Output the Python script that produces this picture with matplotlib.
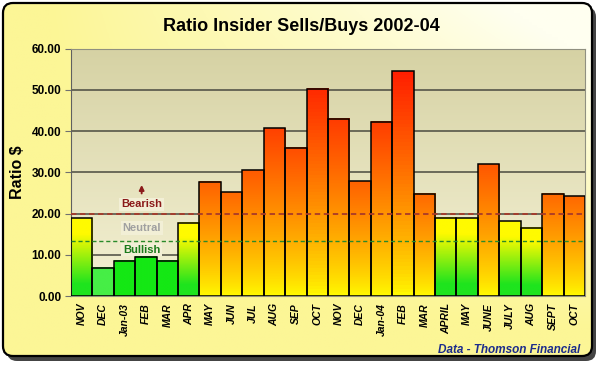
import numpy as np
import matplotlib
matplotlib.use("Agg")
import matplotlib.pyplot as plt
from matplotlib.patches import FancyBboxPatch

# data
months = ["NOV", "DEC", "Jan-03", "FEB", "MAR", "APR", "MAY", "JUN", "JUL", "AUG",
          "SEP", "OCT", "NOV", "DEC", "Jan-04", "FEB", "MAR", "APRIL", "MAY", "JUNE",
          "JULY", "AUG", "SEPT", "OCT"]
ratios = [18.8, 6.9, 8.5, 9.5, 8.5, 17.8, 27.7, 25.2, 30.5, 40.7,
          35.9, 50.3, 43.0, 27.8, 42.3, 54.5, 24.8, 19.0, 18.8, 32.0,
          18.1, 16.6, 24.8, 24.2]
bearish_level = 20.0
bullish_level = 13.3
yticks = [0, 10, 20, 30, 40, 50, 60]

plt.rcParams['font.family'] = ['Liberation Sans', 'DejaVu Sans']

fig = plt.figure(figsize=(6, 3.65), dpi=100)
fig.patch.set_facecolor("white")

# background panel with rounded border and shadow
bg = fig.add_axes([0, 0, 1, 1], zorder=-2)
bg.set_xlim(0, 600)
bg.set_ylim(365, 0)
bg.axis("off")
shadow = FancyBboxPatch((7, 7), 589, 354, boxstyle="round,pad=0,rounding_size=10",
                        facecolor="#444444", edgecolor="none")
bg.add_patch(shadow)
panel = FancyBboxPatch((3, 3), 589, 353, boxstyle="round,pad=0,rounding_size=10",
                       facecolor="none", edgecolor="black", linewidth=1.6, zorder=3)
bg.add_patch(panel)
gx, gy = np.meshgrid(np.linspace(0, 1, 200), np.linspace(0, 1, 120))
t = np.clip(gx * (1 - gy) * 1.3 - 0.1, 0, 1)
yel = np.array([252, 246, 150]) / 255
wht = np.array([255, 255, 240]) / 255
img = yel[None, None, :] * (1 - t[..., None]) + wht[None, None, :] * t[..., None]
im = bg.imshow(img, extent=(3, 592, 356, 3), aspect="auto", zorder=1)
im.set_clip_path(panel)

ax = fig.add_axes([0.1183, 0.189, 0.8567, 0.678])
ax.set_xlim(-0.5, len(months) - 0.5)
ax.set_ylim(0, 60)
ax.patch.set_alpha(0)

# plot area gradient
top_c = np.array([214, 210, 164]) / 255
bot_c = np.array([244, 241, 212]) / 255
s = np.linspace(0, 1, 100)[:, None]
pa = top_c * (1 - s) + bot_c * s
ax.imshow(pa[:, None, :], extent=(-0.5, len(months) - 0.5, 0, 60), aspect="auto", zorder=0)

for yv in yticks[1:]:
    ax.axhline(yv, color="#4a4a40", linewidth=1.1, zorder=1)

yellow = np.array([255, 250, 0]) / 255
orange = np.array([255, 105, 0]) / 255
red = np.array([255, 30, 0]) / 255
green = np.array([30, 228, 30]) / 255

for i, v in enumerate(ratios):
    h = np.linspace(0, 1, 60)[:, None]
    if v > bearish_level:
        k = np.clip((v - 25) / 30, 0, 1)
        topc = orange * (1 - k) + red * k
        hh = h ** 0.8
        cols = yellow * (1 - hh) + topc * hh
    elif v > 12:
        u = np.clip((h - 0.15) / 0.65, 0, 1)
        cols = green * (1 - u) + yellow * u
    else:
        base = np.array([70, 238, 70]) / 255 if v < 7.5 else np.array([20, 232, 20]) / 255
        cols = np.repeat(base[None, :], 60, axis=0)
    ax.imshow(cols[:, None, :], extent=(i - 0.5, i + 0.5, 0, v), origin="lower",
              aspect="auto", zorder=2)
ax.bar(range(len(months)), ratios, width=1.0, facecolor="none", edgecolor="black",
       linewidth=1.1, zorder=3)

ax.axhline(bearish_level, color="#a83a2a", linestyle=(0, (3, 2)), linewidth=1.3, zorder=4)
ax.axhline(bullish_level, color="#2a8a2a", linestyle=(0, (3, 2)), linewidth=1.0, zorder=4)

lab_x = 2.8
box = dict(boxstyle="square,pad=0.15", facecolor="#f2efd6", edgecolor="none")
ax.text(lab_x, 22.2, "Bearish", color="#8b1a1a", fontsize=8, fontweight="bold",
        ha="center", va="center", bbox=box, zorder=5)
ax.text(lab_x, 16.5, "Neutral", color="#a0a0a0", fontsize=8, fontweight="bold",
        ha="center", va="center", bbox=box, zorder=5)
ax.text(lab_x, 11.2, "Bullish", color="#1a7a1a", fontsize=8, fontweight="bold",
        ha="center", va="center", bbox=box, zorder=5)
ax.annotate("", xy=(lab_x, 27.6), xytext=(lab_x, 24.2),
            arrowprops=dict(arrowstyle="-|>", color="#8b1a1a", lw=1.4, mutation_scale=7),
            zorder=5)

ax.set_yticks(yticks)
ax.set_yticklabels([f"{y:.2f}" for y in yticks], fontsize=8.5, fontweight="bold")
ax.set_xticks(range(len(months)))
ax.set_xticklabels(months, rotation=90, fontsize=7.5, fontweight="bold", style="italic")
ax.tick_params(axis="x", length=0, pad=5)
ax.tick_params(axis="y", length=4, color="#707070", pad=3)
for side in ["top", "right", "bottom"]:
    ax.spines[side].set_color("#909080")
    ax.spines[side].set_linewidth(0.8)
ax.spines["left"].set_color("#606060")
ax.set_ylabel("Ratio $", fontsize=11.5, fontweight="bold", labelpad=5)

fig.text(0.502, 0.927, "Ratio Insider Sells/Buys 2002-04", ha="center", va="center",
         fontsize=13, fontweight="bold")
fig.text(0.967, 0.042, "Data - Thomson Financial", ha="right", va="center",
         fontsize=8.5, fontweight="bold", style="italic", color="#1c2c8c")

fig.savefig("out.png", dpi=100)
